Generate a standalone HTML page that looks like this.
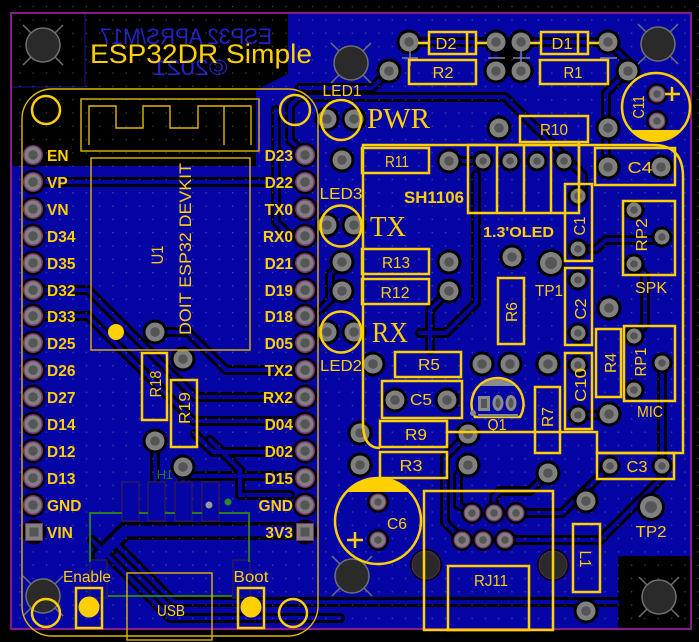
<!DOCTYPE html>
<html><head><meta charset="utf-8">
<style>
html,body{margin:0;padding:0;background:#000;}
svg{display:block;}
text{font-family:"Liberation Sans",sans-serif;}
</style></head>
<body>
<svg width="699" height="642" viewBox="0 0 699 642" xmlns="http://www.w3.org/2000/svg">
<defs>
<pattern id="grid" width="13.3" height="13.3" patternUnits="userSpaceOnUse"><rect x="6" y="6" width="1.2" height="1.2" fill="#8a8a9a"/></pattern>
<g id="pad"><circle r="12.5" fill="#000"/><circle r="9.5" fill="#808080"/><circle r="4.8" fill="#555"/></g>
<g id="pads"><circle r="10.5" fill="#000"/><circle r="7.5" fill="#808080"/><circle r="3.8" fill="#555"/></g>
<g id="padh"><circle r="12.5" fill="#000"/><circle r="10" fill="#7a2f7a"/><circle r="8.5" fill="#808080"/><circle r="4.8" fill="#555"/></g>
<g id="padr"><circle r="11" fill="#000"/><circle r="8.5" fill="#7a2f7a"/><circle r="7.3" fill="#808080"/><circle r="3.8" fill="#555"/></g>
<g id="padq"><circle r="12.5" fill="#000"/><rect x="-9" y="-9" width="18" height="18" fill="#7a2f7a"/><rect x="-8" y="-8" width="16" height="16" fill="#808080"/><rect x="-4.5" y="-4.5" width="9" height="9" fill="#555"/></g>
<g id="mh"><line x1="-20" y1="-20" x2="20" y2="20" stroke="#707070" stroke-width="1.5"/><line x1="20" y1="-20" x2="-20" y2="20" stroke="#707070" stroke-width="1.5"/><circle r="17" fill="#2a2a2a" stroke="#707070" stroke-width="1.5"/></g>
</defs>

<rect width="699" height="642" fill="#000"/>
<rect x="11" y="13" width="680" height="616" fill="#0505a6"/>
<path d="M11 13 H288 V74 L256 90 V166 H11 Z" fill="#000"/>
<rect x="618" y="556" width="73" height="73" fill="#000"/>
<rect x="11" y="13" width="74" height="74" fill="none" stroke="#15159a" stroke-width="1"/>

<g fill="#2222c8" font-size="22">
<text transform="translate(372 0) scale(-1 1)" x="186" y="44" text-anchor="middle" textLength="172" lengthAdjust="spacingAndGlyphs">ESP32 APRS/M17</text>
<text transform="translate(380 0) scale(-1 1)" x="190" y="75" text-anchor="middle" textLength="75" lengthAdjust="spacingAndGlyphs">©2021</text>
</g>

<g fill="none" stroke-linejoin="round" stroke-linecap="round">
<g stroke="#000" stroke-width="10">
<path d="M33 182 H305"/>
<path d="M305 155 L290 140 V106 L299 97 H505 L583 175 V196"/>
<path d="M276 110 V222 L289 235 H305"/>
<path d="M389 71 L372 88 H300"/>
<path d="M409 42 H608"/>
<path d="M496 42 V71 M521 42 V71"/>
<path d="M608 42 L628 62 V71 L606 93 V167"/>
<path d="M578 249 H596 L606 240 H662"/>
<path d="M634 264 L645 275 V325 L634 336"/>
<path d="M662 363 V466"/>
<path d="M578 415 H609"/>
<path d="M449 161 H483"/>
<path d="M476 175 V303 L446 333 H420"/>
<path d="M155 332 H188 L226 370 H305"/>
<path d="M33 290 H88 L195 397 H305"/>
<path d="M33 316 H88 L193 421 H305"/>
<path d="M195 434 L213 452 H305"/>
<path d="M183 467 L192 476 H305"/>
<path d="M210 440 L240 470 V495 H290"/>
<path d="M155 441 V490 M183 467 V490"/>
<path d="M92 540 L170 618 H340"/>
<path d="M112 540 L174 602 H617"/>
<path d="M610 466 L562 513 H516"/>
<path d="M662 466 V478 L600 540 H505"/>
<path d="M468 434 L445 457 V522 L462 540"/>
<path d="M468 465 L458 475 V505 L472 513"/>
<path d="M548 473 L530 491 H500 L494 497 V513"/>
<path d="M342 262 L330 274 V300 L320 310"/>
<path d="M449 291 L430 310 V350"/>
</g>
<g stroke="#000" stroke-width="18"><path d="M305 531 H125 L100 556"/></g>
<g stroke="#0505a6" stroke-width="4">
<path d="M33 182 H305"/>
<path d="M305 155 L290 140 V106 L299 97 H505 L583 175 V196"/>
<path d="M276 110 V222 L289 235 H305"/>
<path d="M389 71 L372 88 H300"/>
<path d="M409 42 H608"/>
<path d="M496 42 V71 M521 42 V71"/>
<path d="M608 42 L628 62 V71 L606 93 V167"/>
<path d="M578 249 H596 L606 240 H662"/>
<path d="M634 264 L645 275 V325 L634 336"/>
<path d="M662 363 V466"/>
<path d="M578 415 H609"/>
<path d="M449 161 H483"/>
<path d="M476 175 V303 L446 333 H420"/>
<path d="M155 332 H188 L226 370 H305"/>
<path d="M33 290 H88 L195 397 H305"/>
<path d="M33 316 H88 L193 421 H305"/>
<path d="M195 434 L213 452 H305"/>
<path d="M183 467 L192 476 H305"/>
<path d="M210 440 L240 470 V495 H290"/>
<path d="M155 441 V490 M183 467 V490"/>
<path d="M92 540 L170 618 H340"/>
<path d="M112 540 L174 602 H617"/>
<path d="M610 466 L562 513 H516"/>
<path d="M662 466 V478 L600 540 H505"/>
<path d="M468 434 L445 457 V522 L462 540"/>
<path d="M468 465 L458 475 V505 L472 513"/>
<path d="M548 473 L530 491 H500 L494 497 V513"/>
<path d="M342 262 L330 274 V300 L320 310"/>
<path d="M449 291 L430 310 V350"/>
</g>
<g stroke="#0505a6" stroke-width="11"><path d="M305 531 H125 L100 556"/></g>
</g>
<rect x="501" y="40" width="16" height="36" fill="#000"/>

<rect x="11" y="0" width="688" height="629" fill="url(#grid)" opacity="0.55"/>

<g fill="#0505a6" stroke="#2a1a5a" stroke-width="1.5">
<rect x="122" y="482" width="17" height="39"/>
<rect x="148" y="482" width="17" height="39"/>
<rect x="175" y="482" width="17" height="39"/>
<rect x="202" y="482" width="17" height="39"/>
<rect x="90" y="560" width="17" height="38"/>
<rect x="233" y="560" width="17" height="38"/>
</g>
<g fill="none" stroke="#2b7a22" stroke-width="2">
<path d="M90 562 V513 H122 M139 513 H148 M165 513 H175 M192 513 H202 M219 513 H249 V562"/>
<path d="M108 596 H232"/>
</g>
<text x="165" y="479" fill="#2b7a22" font-size="13" transform="translate(330 0) scale(-1 1)" text-anchor="middle">1H</text>
<circle cx="209" cy="505" r="3.5" fill="#9a9a9a"/>
<circle cx="228" cy="502" r="3.5" fill="#2b8a22"/>

<g>
<use href="#padh" x="33" y="155"/><use href="#padh" x="33" y="182"/><use href="#padh" x="33" y="209"/><use href="#padh" x="33" y="236"/><use href="#padh" x="33" y="263"/><use href="#padh" x="33" y="290"/><use href="#padh" x="33" y="316"/><use href="#padh" x="33" y="343"/><use href="#padh" x="33" y="370"/><use href="#padh" x="33" y="397"/><use href="#padh" x="33" y="424"/><use href="#padh" x="33" y="451"/><use href="#padh" x="33" y="478"/><use href="#padh" x="33" y="505"/><use href="#padq" x="34" y="532"/>
<use href="#padh" x="305" y="155"/><use href="#padh" x="305" y="182"/><use href="#padh" x="305" y="209"/><use href="#padh" x="305" y="236"/><use href="#padh" x="305" y="263"/><use href="#padh" x="305" y="290"/><use href="#padh" x="305" y="316"/><use href="#padh" x="305" y="343"/><use href="#padh" x="305" y="370"/><use href="#padh" x="305" y="397"/><use href="#padh" x="305" y="424"/><use href="#padh" x="305" y="451"/><use href="#padh" x="305" y="478"/><use href="#padh" x="305" y="505"/><use href="#padq" x="305" y="532"/>
<use href="#pad" x="409" y="42"/><use href="#pad" x="496" y="42"/><use href="#pad" x="521" y="42"/><use href="#pad" x="608" y="42"/>
<use href="#pad" x="389" y="71"/><use href="#pad" x="496" y="71"/><use href="#pad" x="521" y="71"/><use href="#pad" x="628" y="71"/>
<use href="#padr" x="657" y="94"/><use href="#padr" x="657" y="121"/>
<use href="#pad" x="327" y="119"/><use href="#pad" x="354" y="119"/><use href="#pad" x="342" y="160"/>
<use href="#pad" x="327" y="225"/><use href="#pad" x="354" y="225"/><use href="#pad" x="342" y="262"/><use href="#pad" x="342" y="291"/>
<use href="#pad" x="327" y="332"/><use href="#pad" x="354" y="332"/>
<use href="#pad" x="499" y="128"/><use href="#pad" x="608" y="128"/>
<use href="#pad" x="449" y="161"/>
<use href="#pads" x="483" y="161"/><use href="#pads" x="510" y="161"/><use href="#pads" x="537" y="161"/><use href="#pads" x="564" y="161"/>
<use href="#pad" x="608" y="167"/><use href="#pad" x="661" y="167"/>
<use href="#pads" x="578" y="196"/><use href="#pads" x="578" y="249"/>
<use href="#pads" x="634" y="210"/><use href="#pads" x="662" y="237"/><use href="#pads" x="634" y="264"/>
<use href="#pad" x="449" y="262"/><use href="#pad" x="449" y="291"/>
<use href="#pad" x="512" y="257"/>
<circle cx="551" cy="263" r="14" fill="#000"/><circle cx="551" cy="263" r="11" fill="#808080"/><circle cx="551" cy="263" r="6" fill="#555"/>
<use href="#pads" x="578" y="280"/><use href="#pads" x="578" y="333"/>
<use href="#pad" x="609" y="308"/><use href="#pad" x="609" y="414"/>
<use href="#pads" x="634" y="336"/><use href="#pads" x="662" y="363"/><use href="#pads" x="634" y="390"/>
<use href="#pad" x="373" y="364"/><use href="#pad" x="482" y="364"/><use href="#pad" x="510" y="364"/><use href="#pad" x="548" y="364"/>
<use href="#pads" x="578" y="365"/><use href="#pads" x="578" y="415"/>
<use href="#pad" x="395" y="400"/><use href="#pad" x="447" y="400"/>
<use href="#pad" x="360" y="433"/><use href="#pad" x="468" y="434"/>
<use href="#pad" x="360" y="465"/><use href="#pad" x="468" y="465"/>
<use href="#pad" x="548" y="473"/>
<use href="#pads" x="610" y="466"/><use href="#pads" x="662" y="466"/>
<circle cx="651" cy="507" r="14" fill="#000"/><circle cx="651" cy="507" r="11" fill="#808080"/><circle cx="651" cy="507" r="6" fill="#555"/>
<use href="#padr" x="378" y="502"/><use href="#padr" x="378" y="540"/>
<use href="#padr" x="472" y="513"/><use href="#padr" x="494" y="513"/><use href="#padr" x="516" y="513"/>
<use href="#padr" x="462" y="540"/><use href="#padr" x="483" y="540"/><use href="#padr" x="505" y="540"/>
<circle cx="426" cy="565" r="16" fill="#000"/><circle cx="426" cy="565" r="14" fill="#2a2a2a" stroke="#5a2a5a" stroke-width="1"/>
<circle cx="553" cy="565" r="16" fill="#000"/><circle cx="553" cy="565" r="14" fill="#2a2a2a" stroke="#5a2a5a" stroke-width="1"/>
<use href="#pad" x="586" y="501"/><use href="#pad" x="586" y="611"/>
<use href="#pad" x="155" y="332"/><use href="#pad" x="183" y="359"/><use href="#pad" x="155" y="441"/><use href="#pad" x="183" y="467"/>
</g>

<g stroke="#8080a0" stroke-width="1.5">
<path d="M402 58 H418 M410 51 V66"/>
<path d="M488 58 H505"/>
<path d="M513 58 H530 M521 51 V66"/>
<path d="M600 58 H617"/>
</g>

<use href="#mh" x="43" y="45"/>
<use href="#mh" x="351" y="63"/>
<use href="#mh" x="658" y="44"/>
<use href="#mh" x="43" y="596"/>
<use href="#mh" x="352" y="576"/>
<use href="#mh" x="659" y="597"/>

<rect x="11" y="13" width="680" height="616" fill="none" stroke="#8a1a8a" stroke-width="2"/>

<g fill="none" stroke="#e0b800" stroke-width="1.4">
<rect x="22" y="89" width="296" height="547" rx="30" ry="30"/>
<rect x="81" y="99" width="178" height="52"/>
<path d="M89 145 V106 H116 V128 H143 V106 H170 V128 H198 V106 H251 V145 M224 106 V145"/>
<rect x="91" y="158" width="159" height="192"/>
<rect x="127" y="573" width="85" height="67"/>
</g>
<g fill="none" stroke="#ffd000" stroke-width="2.5">
<circle cx="46" cy="110" r="14"/>
<circle cx="295" cy="110" r="15"/>
<circle cx="46" cy="613" r="14"/>
<circle cx="293" cy="613" r="14"/>
</g>
<circle cx="116" cy="332" r="8" fill="#ffd000"/>

<g fill="none" stroke="#ffd000" stroke-width="2.5">
<rect x="142" y="353" width="25" height="67"/>
<rect x="171" y="380" width="26" height="67"/>
<rect x="76" y="588" width="26" height="40"/>
<rect x="238" y="588" width="26" height="40"/>
<rect x="429" y="32" width="47" height="22"/><path d="M467 32 V54"/>
<rect x="541" y="32" width="47" height="22"/><path d="M578 32 V54"/>
<path d="M418 43 H429 M476 43 H487 M530 43 H541 M588 43 H599"/>
<rect x="409" y="60" width="67" height="24"/>
<rect x="540" y="60" width="68" height="24"/>
<rect x="520" y="116" width="68" height="26"/>
<path d="M380 448 Q363 448 363 423 V145 H653 Q683 145 683 177 V453 H597 V432 H448"/>
<rect x="468" y="145" width="111" height="68"/>
<path d="M497 145 V213 M524 145 V213 M551 145 V213 M579 142 V184"/>
<rect x="362" y="148" width="67" height="25"/>
<rect x="362" y="249" width="67" height="25"/>
<rect x="362" y="279" width="67" height="25"/>
<rect x="595" y="148" width="80" height="37"/>
<rect x="565" y="184" width="27" height="77"/>
<rect x="565" y="268" width="27" height="77"/>
<rect x="565" y="353" width="27" height="76"/>
<rect x="498" y="278" width="26" height="66"/>
<rect x="623" y="201" width="52" height="74"/>
<rect x="624" y="326" width="51" height="75"/>
<rect x="596" y="329" width="25" height="68"/>
<rect x="395" y="352" width="66" height="25"/>
<rect x="382" y="381" width="80" height="37"/>
<rect x="380" y="421" width="67" height="26"/>
<rect x="380" y="452" width="67" height="26"/>
<rect x="535" y="387" width="25" height="66"/>
<rect x="597" y="453" width="77" height="26"/>
<rect x="424" y="491" width="129" height="139"/>
<rect x="448" y="566" width="81" height="64"/>
<rect x="573" y="524" width="27" height="68"/>
<circle cx="341" cy="120" r="20"/>
<circle cx="341" cy="226" r="20.5"/>
<circle cx="341" cy="332" r="20.5"/>
<circle cx="656" cy="107" r="34"/>
<circle cx="378" cy="521" r="43"/>
<path d="M475 417 A26 26 0 1 1 520 417 Z"/>
<path d="M665 94 H680 M672 87 V101"/>
<path d="M347 540 H363 M355 532 V548"/>
</g>
<path d="M631 130 A34 34 0 0 0 681 130 Z" fill="#ffd000"/>
<path d="M346 492 A43 43 0 0 1 410 492 Z" fill="#ffd000"/>
<circle cx="89" cy="607" r="10.5" fill="#ffd000"/>
<circle cx="251" cy="607" r="10.5" fill="#ffd000"/>
<path d="M480 386 A26 26 0 0 1 515 386 Z" fill="#8a8a8a"/>
<rect x="478" y="414" width="40" height="3" fill="#8a8a8a"/>
<rect x="478" y="396" width="12" height="15" fill="#8a8a8a"/><rect x="481" y="399" width="6" height="9" fill="#555"/>
<ellipse cx="498" cy="403" rx="5.5" ry="8" fill="#8a8a8a"/><ellipse cx="498" cy="403" rx="2.5" ry="5" fill="#555"/>
<ellipse cx="511" cy="403" rx="5.5" ry="8" fill="#8a8a8a"/><ellipse cx="511" cy="403" rx="2.5" ry="5" fill="#555"/>
<circle cx="473" cy="413" r="3" fill="#8a8a8a"/>

<text x="90" y="63" fill="#ffd000" font-size="27" textLength="222" lengthAdjust="spacingAndGlyphs">ESP32DR Simple</text>

<g fill="#ffd000" font-size="15.5" font-weight="bold">
<text x="47" y="161">EN</text><text x="47" y="188">VP</text><text x="47" y="215">VN</text><text x="47" y="242">D34</text><text x="47" y="269">D35</text><text x="47" y="296">D32</text><text x="47" y="322">D33</text><text x="47" y="349">D25</text><text x="47" y="376">D26</text><text x="47" y="403">D27</text><text x="47" y="430">D14</text><text x="47" y="457">D12</text><text x="47" y="484">D13</text><text x="47" y="511">GND</text><text x="47" y="538">VIN</text>
</g>
<g fill="#ffd000" font-size="15.5" font-weight="bold" text-anchor="end">
<text x="293" y="161">D23</text><text x="293" y="188">D22</text><text x="293" y="215">TX0</text><text x="293" y="242">RX0</text><text x="293" y="269">D21</text><text x="293" y="296">D19</text><text x="293" y="322">D18</text><text x="293" y="349">D05</text><text x="293" y="376">TX2</text><text x="293" y="403">RX2</text><text x="293" y="430">D04</text><text x="293" y="457">D02</text><text x="293" y="484">D15</text><text x="293" y="511">GND</text><text x="293" y="538">3V3</text>
</g>

<g fill="#ffd000" font-size="16" text-anchor="middle">
<text x="554" y="135" textLength="28" lengthAdjust="spacingAndGlyphs">R10</text>
<text x="397" y="167" textLength="24" lengthAdjust="spacingAndGlyphs">R11</text>
<text x="443" y="78" textLength="21" lengthAdjust="spacingAndGlyphs">R2</text>
<text x="573" y="78" textLength="19" lengthAdjust="spacingAndGlyphs">R1</text>
<text x="446" y="49" textLength="21" lengthAdjust="spacingAndGlyphs">D2</text>
<text x="562" y="49" textLength="21" lengthAdjust="spacingAndGlyphs">D1</text>
<text x="640" y="173" textLength="25" lengthAdjust="spacingAndGlyphs">C4</text>
<text x="396" y="268" textLength="28" lengthAdjust="spacingAndGlyphs">R13</text>
<text x="395" y="298" textLength="29" lengthAdjust="spacingAndGlyphs">R12</text>
<text x="429" y="370" textLength="22" lengthAdjust="spacingAndGlyphs">R5</text>
<text x="421" y="405" textLength="22" lengthAdjust="spacingAndGlyphs">C5</text>
<text x="416" y="440" textLength="22" lengthAdjust="spacingAndGlyphs">R9</text>
<text x="411" y="471" textLength="23" lengthAdjust="spacingAndGlyphs">R3</text>
<text x="637" y="472" textLength="21" lengthAdjust="spacingAndGlyphs">C3</text>
<text x="397" y="529" textLength="20" lengthAdjust="spacingAndGlyphs">C6</text>
<text x="491" y="586" textLength="34" lengthAdjust="spacingAndGlyphs">RJ11</text>
<text x="497" y="430" textLength="19" lengthAdjust="spacingAndGlyphs">Q1</text>
<text x="549" y="296" textLength="28" lengthAdjust="spacingAndGlyphs">TP1</text>
<text x="651" y="537" textLength="31" lengthAdjust="spacingAndGlyphs">TP2</text>
<text x="651" y="293" textLength="32" lengthAdjust="spacingAndGlyphs">SPK</text>
<text x="650" y="417" textLength="26" lengthAdjust="spacingAndGlyphs">MIC</text>
<text x="87" y="582" textLength="48" lengthAdjust="spacingAndGlyphs">Enable</text>
<text x="251" y="582" textLength="35" lengthAdjust="spacingAndGlyphs">Boot</text>
<text x="171" y="616" textLength="28" lengthAdjust="spacingAndGlyphs">USB</text>
<text x="342" y="96" textLength="39" lengthAdjust="spacingAndGlyphs">LED1</text>
<text x="341" y="199" textLength="43" lengthAdjust="spacingAndGlyphs">LED3</text>
<text x="341" y="371" textLength="42" lengthAdjust="spacingAndGlyphs">LED2</text>
</g>
<g fill="#ffd000" font-weight="bold">
<text x="404" y="203" font-size="17" textLength="60" lengthAdjust="spacingAndGlyphs">SH1106</text>
<text x="483" y="237" font-size="15" textLength="71" lengthAdjust="spacingAndGlyphs">1.3'OLED</text>
</g>
<g fill="#ffd000" font-size="28">
<text x="367" y="128" style="font-family:'Liberation Serif',serif" textLength="63" lengthAdjust="spacingAndGlyphs">PWR</text>
<text x="370" y="236" style="font-family:'Liberation Serif',serif" textLength="36" lengthAdjust="spacingAndGlyphs">TX</text>
<text x="372" y="342" style="font-family:'Liberation Serif',serif" textLength="36" lengthAdjust="spacingAndGlyphs">RX</text>
</g>
<g fill="#ffd000" font-size="16" text-anchor="middle">
<text transform="translate(638 107) rotate(-90)" y="6" textLength="23" lengthAdjust="spacingAndGlyphs">C11</text>
<text transform="translate(511 312) rotate(-90)" y="6" textLength="20" lengthAdjust="spacingAndGlyphs">R6</text>
<text transform="translate(580 309) rotate(-90)" y="6" textLength="21" lengthAdjust="spacingAndGlyphs">C2</text>
<text transform="translate(610 363) rotate(-90)" y="6" textLength="20" lengthAdjust="spacingAndGlyphs">R4</text>
<text transform="translate(640 362) rotate(-90)" y="6" textLength="29" lengthAdjust="spacingAndGlyphs">RP1</text>
<text transform="translate(641 235) rotate(-90)" y="6" textLength="33" lengthAdjust="spacingAndGlyphs">RP2</text>
<text transform="translate(580 385) rotate(-90)" y="6" textLength="34" lengthAdjust="spacingAndGlyphs">C10</text>
<text transform="translate(579 226) rotate(-90)" y="6" textLength="19" lengthAdjust="spacingAndGlyphs">C1</text>
<text transform="translate(547 417) rotate(-90)" y="6" textLength="20" lengthAdjust="spacingAndGlyphs">R7</text>
<text transform="translate(586 559) rotate(90)" y="6" textLength="17" lengthAdjust="spacingAndGlyphs">L1</text>
<text transform="translate(155 384) rotate(-90)" y="6" textLength="27" lengthAdjust="spacingAndGlyphs">R18</text>
<text transform="translate(184 408) rotate(-90)" y="6" textLength="32" lengthAdjust="spacingAndGlyphs">R19</text>
<text transform="translate(157 255) rotate(-90)" y="6" font-size="17" textLength="19" lengthAdjust="spacingAndGlyphs">U1</text>
<text transform="translate(185 249) rotate(-90)" y="6" font-size="17" textLength="172" lengthAdjust="spacingAndGlyphs">DOIT ESP32 DEVKIT</text>
</g>
</svg>
</body></html>
